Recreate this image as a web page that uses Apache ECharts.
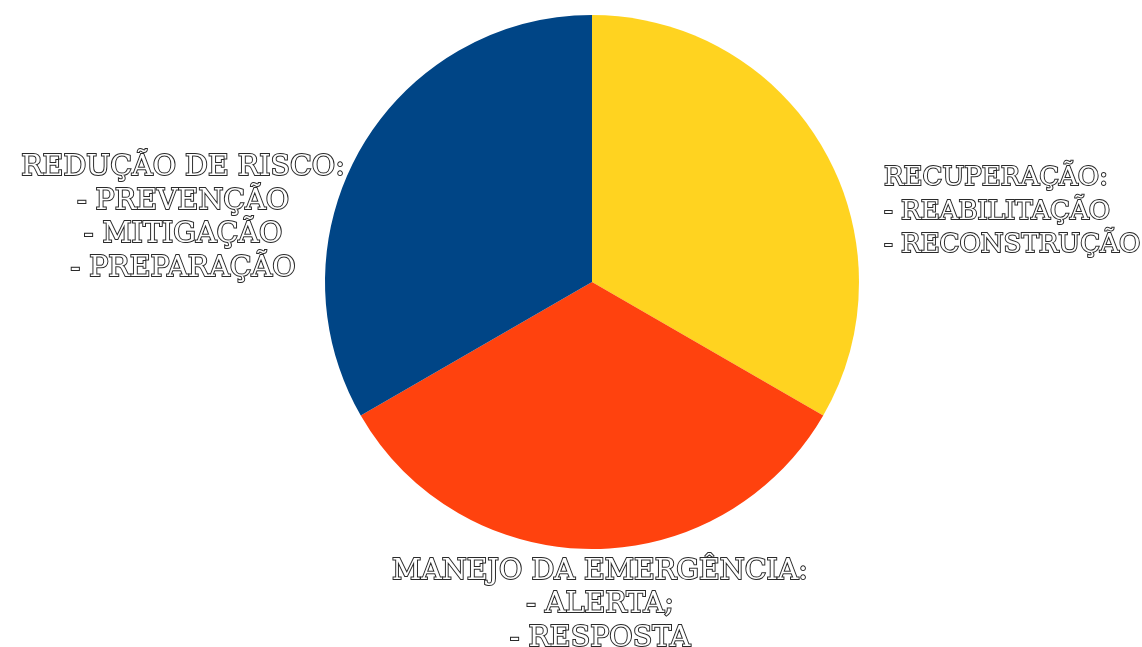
<!DOCTYPE html>
<html>
<head>
<meta charset="utf-8">
<script src="https://cdn.jsdelivr.net/npm/echarts@6/dist/echarts.min.js"></script>
<style>
html,body{margin:0;padding:0;background:#fff;}
#chart{width:1142px;height:647px;}
</style>
</head>
<body>
<div id="chart"></div>
<script>
const categories = ['RECUPERAÇÃO:', 'MANEJO DA EMERGÊNCIA:', 'REDUÇÃO DE RISCO:'];
const subItems = [
  ['- REABILITAÇÃO', '- RECONSTRUÇÃO'],
  ['- ALERTA;', '- RESPOSTA'],
  ['- PREVENÇÃO', '- MITIGAÇÃO', '- PREPARAÇÃO']
];
const values = [1, 1, 1];
const colors = ['#ffd320', '#ff420e', '#004586'];

const labelPlacement = [
  {x: 884, y: 212, align: 'left', fontSize: 26},
  {x: 600, y: 605, align: 'center', fontSize: 28.5},
  {x: 183, y: 218, align: 'center', fontSize: 28.5}
];

const chart = echarts.init(document.getElementById('chart'), null, {renderer: 'canvas'});
chart.setOption({
  animation: false,
  backgroundColor: '#ffffff',
  series: [{
    type: 'pie',
    center: [592, 282],
    radius: [0, 267],
    startAngle: 90,
    clockwise: true,
    data: categories.map((c, i) => ({
      name: c,
      value: values[i],
      itemStyle: {color: colors[i]},
      label: {formatter: [c].concat(subItems[i]).join('\n'), fontSize: labelPlacement[i].fontSize}
    })),
    label: {
      show: true,
      position: 'outside',
      alignTo: 'none',
      overflow: 'none',
      fontFamily: 'DejaVu Serif',
      fontSize: 28.5,
      lineHeight: 33.5,
      color: '#ffffff',
      textBorderColor: '#2a2a2a',
      textBorderWidth: 2
    },
    labelLine: {show: false},
    labelLayout: function (params) {
      const p = labelPlacement[params.dataIndex];
      return {x: p.x, y: p.y, align: p.align, verticalAlign: 'middle', hideOverlap: false, moveOverlap: null};
    },
    emphasis: {disabled: true}
  }]
});
</script>
</body>
</html>
